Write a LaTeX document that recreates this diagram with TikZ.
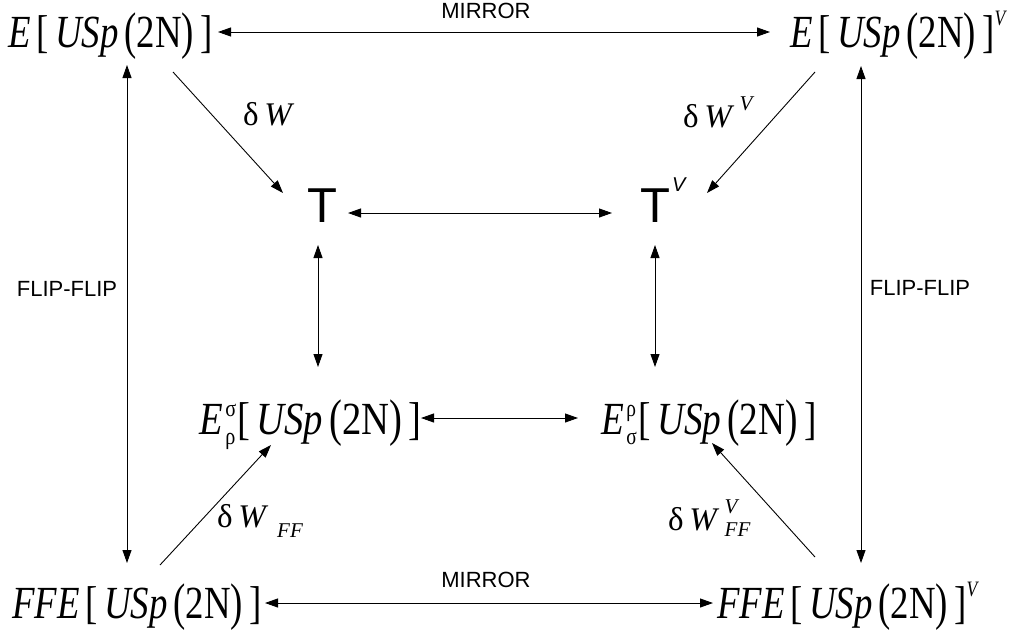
\documentclass[tikz,border=0pt]{standalone}
\usepackage{fontspec}
\setmainfont{Liberation Serif}
\newfontfamily\arial{Liberation Sans}
\usetikzlibrary{arrows.meta}
\newcommand\tallp[1]{\raisebox{-1.5pt}{\scalebox{1}[1.12]{#1}}}
\newcommand\usp{\textit{USp}\,\tallp{(}2N\tallp{)}}
\newcommand\squeeze[1]{\scalebox{0.8}[1]{#1}}
\newcommand\scr[1]{{\fontsize{22}{22}\selectfont #1}}
\newcommand\mscr[1]{{\fontsize{24}{24}\selectfont #1}}
\newcommand\lscr[1]{{\fontsize{21}{21}\selectfont #1}}
\newcommand\supsub[2]{\kern3pt\rlap{\raisebox{18pt}{\mscr{#1}}}\raisebox{-10pt}{\mscr{#2}}\kern2pt}
\begin{document}
\begin{tikzpicture}[x=1pt,y=-1pt,
 big/.style={font=\fontsize{46}{50}\selectfont, inner sep=0pt, anchor=west, text height=32pt, text depth=2pt},
 lab/.style={font=\fontsize{33}{36}\selectfont, inner sep=0pt, anchor=base west},
 sans/.style={font=\arial\fontsize{22}{24}\selectfont, inner sep=0pt},
 tsty/.style={font=\arial\fontsize{49}{52}\selectfont, inner sep=0pt},
 tip/.tip={Triangle[length=13pt,width=9pt]},
 arr/.style={-tip, line width=0.9pt},
 dbl/.style={tip-tip, line width=0.9pt}]
\useasboundingbox (0,0) rectangle (1016,629);
% main nodes
\node[big] (tl) at (8,32) {\squeeze{\textit{E}\,[\,\usp\,]}};
\node[big] (tr) at (790,32) {\squeeze{\textit{E}\,[\,\usp\,]\raisebox{22pt}{\scr{\textit{V}}}}};
\node[big] (ml) at (199,419) {\scalebox{0.84}[1]{\textit{E}\supsub{σ}{ρ}[\,\usp\,]}};
\node[big] (mr) at (601,419) {\scalebox{0.81}[1]{\textit{E}\supsub{ρ}{σ}[\,\usp\,]}};
\node[big] (bl) at (12,603) {\squeeze{\textit{FFE}\,[\,\usp\,]}};
\node[big] (br) at (717,603) {\squeeze{\textit{FFE}\,[\,\usp\,]\raisebox{22pt}{\scr{\textit{V}}}}};
\node[tsty, anchor=base] (t) at (322,222) {T};
\node[tsty, anchor=base west] (tv) at (640,222) {T\hspace{2pt}\raisebox{31pt}{\fontsize{20}{20}\selectfont\itshape V}};
% labels
\node[sans] (m1) at (486,10.5) {MIRROR};
\node[sans] (m2) at (486,580) {MIRROR};
\node[sans] (ff1) at (67,289) {FLIP-FLIP};
\node[sans] (ff2) at (920,288) {FLIP-FLIP};
\node[lab] (dw) at (243,125) {δ\,\textit{W}};
\node[lab] (dwv) at (683,127) {δ\,\textit{W}\,\raisebox{17pt}{\lscr{\textit{V}}}};
\node[lab] (dwff) at (217,527) {δ\,\textit{W}\hspace{9pt}\raisebox{-10pt}{\lscr{\textit{FF}}}};
\node[lab] (dwvff) at (668,530) {δ\,\textit{W}\,\rlap{\raisebox{17pt}{\lscr{\textit{V}}}}\raisebox{-6pt}{\lscr{\textit{FF}}}};
% connectors
\draw[dbl] ([shift={(210,0)}]tl.west) -- ([shift={(-20,0)}]tr.west);
\draw[dbl] ([shift={(119,33)}]tl.west) -- ([shift={(115,-40)}]bl.west);
\draw[dbl] ([shift={(71,34)}]tr.west) -- ([shift={(144,-40)}]br.west);
\draw[dbl] ([shift={(253,0)}]bl.west) -- ([shift={(-4,0)}]br.west);
\draw[arr] ([shift={(165,40)}]tl.west) -- ([shift={(-39,-29)}]t.base);
\draw[arr] ([shift={(25,40)}]tr.west) -- ([shift={(67,-29)}]tv.base west);
\draw[dbl] ([shift={(26,-9)}]t.base) -- ([shift={(-28,-9)}]tv.base west);
\draw[dbl] ([shift={(-4,23)}]t.base) -- ([shift={(119,-52)}]ml.west);
\draw[dbl] ([shift={(15,23)}]tv.base west) -- ([shift={(54,-52)}]mr.west);
\draw[dbl] ([shift={(222,-1)}]ml.west) -- ([shift={(-23,-1)}]mr.west);
\draw[arr] ([shift={(148,-38)}]bl.west) -- ([shift={(72,26)}]ml.west);
\draw[arr] ([shift={(98,-46)}]br.west) -- ([shift={(111,24)}]mr.west);
\end{tikzpicture}
\end{document}
